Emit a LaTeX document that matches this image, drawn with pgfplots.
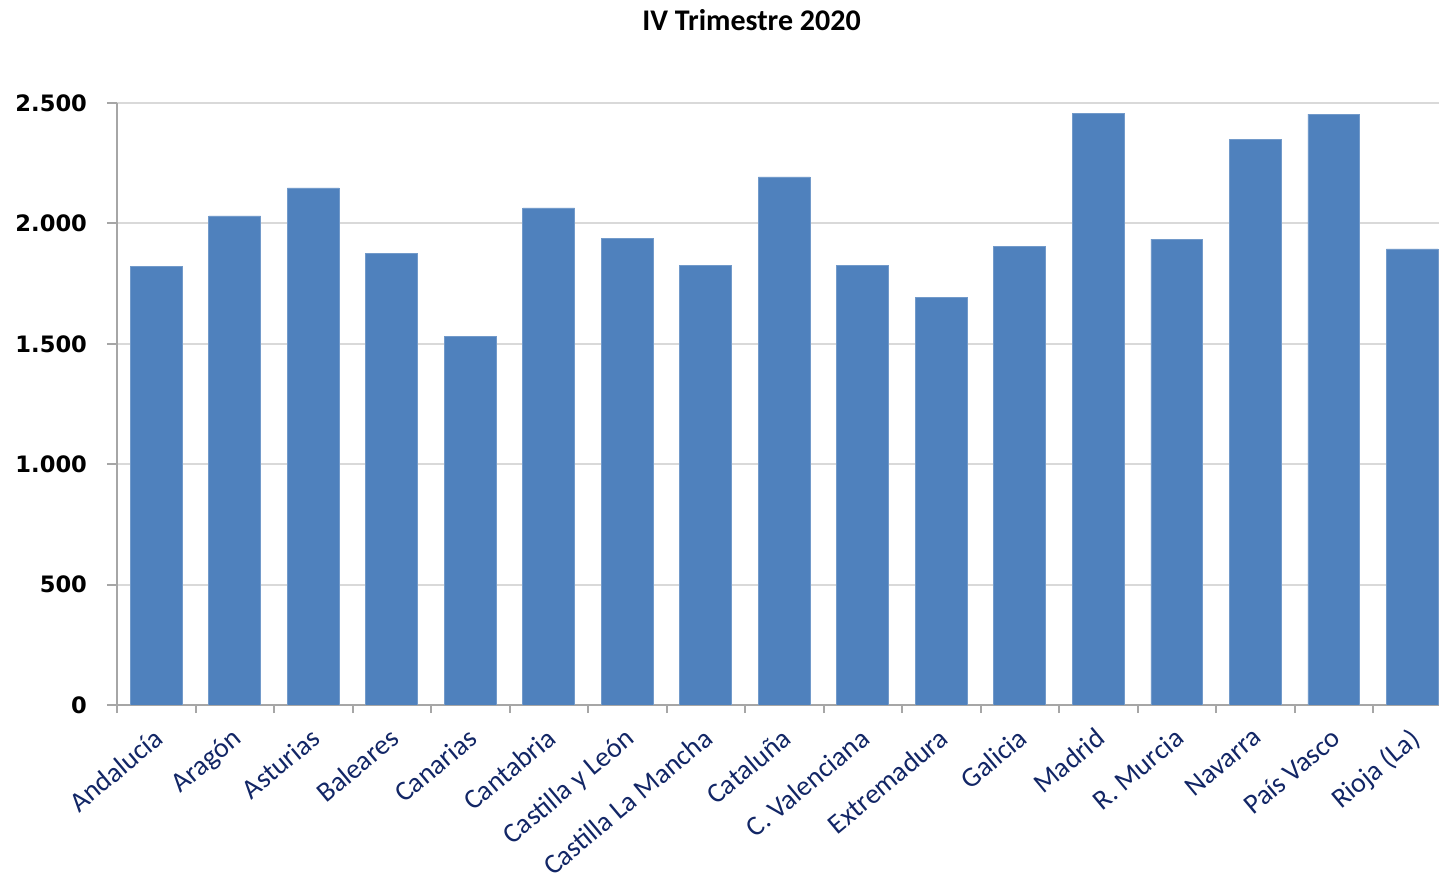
\documentclass[border=0pt]{standalone}
\usepackage{fontspec}
\setmainfont{Carlito}
\newfontfamily\ylabfont{DejaVu Sans}
\usepackage{pgfplots}
\pgfplotsset{compat=1.18}
\definecolor{barblue}{HTML}{4F81BD}
\definecolor{labnavy}{RGB}{18,38,102}
\definecolor{axgray}{HTML}{A6A6A6}
\definecolor{gridgray}{HTML}{D9D9D9}
\begin{document}
\begin{tikzpicture}
\useasboundingbox (0,0) rectangle (719.5bp,438bp);
\begin{axis}[
  at={(58.5bp,85.5bp)}, anchor=south west,
  scale only axis, width=661bp, height=301bp,
  xmin=-0.5, xmax=16.34, ymin=0, ymax=2500,
  axis x line*=bottom, axis y line*=left,
  axis line style={axgray, line width=1bp},
  ytick={0,500,1000,1500,2000,2500},
  yticklabels={0,500,1.000,1.500,2.000,2.500},
  yticklabel style={font=\ylabfont\bfseries\fontsize{11.3bp}{13bp}\selectfont, black, xshift=-6.5bp},
  ymajorgrids, grid style={gridgray, line width=1bp},
  xtick={0,...,16},
  xticklabels={Andalucía,Aragón,Asturias,Baleares,Canarias,Cantabria,Castilla y León,Castilla La Mancha,Cataluña,C. Valenciana,Extremadura,Galicia,Madrid,R. Murcia,Navarra,País Vasco,Rioja (La)},
  xticklabel style={font=\fontsize{14bp}{16bp}\selectfont, labnavy, rotate=40, anchor=north east, inner sep=1bp, xshift=-4bp, yshift=-2bp},
  major x tick style={draw=none},
  minor xtick={-0.5,0.5,...,15.5},
  minor x tick style={axgray, line width=1bp},
  major y tick style={axgray, line width=1bp},
  tick align=outside, major tick length=5bp, minor tick length=4bp,
  title={IV Trimestre 2020},
  title style={at={(0.48,1)}, anchor=center, yshift=35.5bp, font=\bfseries\fontsize{15bp}{18bp}\selectfont},
]
\addplot[ybar, bar width=0.66, fill=barblue, draw=barblue!80!white] coordinates {
(0,1823) (1,2031) (2,2147) (3,1877) (4,1532) (5,2064) (6,1939) (7,1827) (8,2193)
(9,1827) (10,1694) (11,1906) (12,2458) (13,1935) (14,2350) (15,2454) (16,1894)
};
\end{axis}
\end{tikzpicture}
\end{document}
